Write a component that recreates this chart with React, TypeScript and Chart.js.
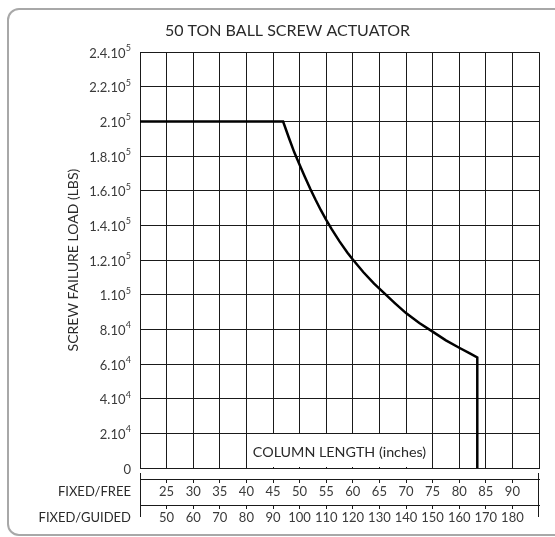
import { useEffect, useRef } from 'react';
import { Chart, registerables } from 'chart.js';

Chart.register(...registerables);

const FONT = 'Lato, "Open Sans", sans-serif';
const GRID = '#1a1a1a';
const TEXT = '#2a2a2a';
const TICK_TEXT = '#3a3a3a';

const TITLE = '50 TON BALL SCREW ACTUATOR';
const Y_TITLE = 'SCREW FAILURE LOAD (LBS)';
const X_TITLE = 'COLUMN LENGTH (inches)';
const ROW_FREE = 'FIXED/FREE';
const ROW_GUIDED = 'FIXED/GUIDED';

// Curve (column length in inches on the FIXED/FREE scale, load in lbs)
const columnLengthIn = [20, 46.9, 48, 49, 50, 51, 52, 53, 54, 55, 56, 57.5, 59, 60, 62, 64, 66, 68, 70, 72.5, 75, 77.5, 80, 82, 83.4, 83.4];
const failureLoadLbs = [200000, 200000, 190500, 182200, 175000, 168000, 161200, 154800, 148800, 143200, 138000, 130800, 124300, 120300, 113000, 106400, 100600, 94900, 89400, 83700, 78700, 73700, 69400, 66200, 63800, 0];

const gridLengthValues = [20, 25, 30, 35, 40, 45, 50, 55, 60, 65, 70, 75, 80, 85, 90, 95];
const freeTickValues = [25, 30, 35, 40, 45, 50, 55, 60, 65, 70, 75, 80, 85, 90];
const guidedTickValues = [50, 60, 70, 80, 90, 100, 110, 120, 130, 140, 150, 160, 170, 180];
const loadTickValues = [0, 20000, 40000, 60000, 80000, 100000, 120000, 140000, 160000, 180000, 200000, 220000, 240000];
// tick label = mantissa "." 10 ^ exponent, e.g. "2.4.10⁵"
const loadTickBase = ['0', '2.10', '4.10', '6.10', '8.10', '1.10', '1.2.10', '1.4.10', '1.6.10', '1.8.10', '2.10', '2.2.10', '2.4.10'];
const loadTickExp = ['', '4', '4', '4', '4', '5', '5', '5', '5', '5', '5', '5', '5'];

const TICK_FONT_SIZE = 13;
const TICK_PAD = 1;
const TICK_LEN = 4;

const decorPlugin = {
  id: 'decor',
  beforeDatasetsDraw(chart: any) {
    const { ctx, scales } = chart;
    const x = scales.x;
    const y = scales.y;
    const l = Math.round(x.getPixelForValue(40));
    const r = Math.round(x.getPixelForValue(75));
    const t = Math.round(y.getPixelForValue(20000));
    const b = Math.round(y.getPixelForValue(0));
    ctx.save();
    ctx.fillStyle = '#ffffff';
    ctx.fillRect(l + 1, t + 1, r - l - 2, b - t - 2);
    ctx.fillStyle = TEXT;
    ctx.font = `14.3px ${FONT}`;
    ctx.textAlign = 'center';
    ctx.textBaseline = 'middle';
    ctx.fillText(X_TITLE, (l + r) / 2, (t + b) / 2 + 1.5);
    ctx.restore();
  },
  afterDraw(chart: any) {
    const { ctx, chartArea, scales } = chart;
    const free = scales.xFree;
    const guided = scales.xGuided;
    const y = scales.y;
    ctx.save();
    // y tick labels with raised exponents
    ctx.fillStyle = TICK_TEXT;
    ctx.textAlign = 'right';
    ctx.textBaseline = 'alphabetic';
    const right = y.right - 9;
    loadTickValues.forEach((v, i) => {
      const py = y.getPixelForValue(v);
      const base = py + 5.6;
      let xr = right;
      if (loadTickExp[i]) {
        ctx.font = `9px ${FONT}`;
        ctx.fillText(loadTickExp[i], xr, base - 6.8);
        xr -= ctx.measureText(loadTickExp[i]).width + 0.3;
      }
      ctx.font = `${TICK_FONT_SIZE}px ${FONT}`;
      ctx.fillText(loadTickBase[i], xr, base);
    });
    // bottom row frame bars
    ctx.strokeStyle = GRID;
    ctx.lineWidth = 1;
    const top = free.top - 6;
    const bottom = guided.top + 12;
    [Math.round(chartArea.left) + 0.5, Math.round(chartArea.right) - 0.5].forEach((px) => {
      ctx.beginPath();
      ctx.moveTo(px, top);
      ctx.lineTo(px, bottom);
      ctx.stroke();
    });
    // row names
    ctx.fillStyle = TEXT;
    ctx.font = `13px ${FONT}`;
    ctx.textAlign = 'right';
    ctx.textBaseline = 'middle';
    const lh = TICK_FONT_SIZE * 1.2;
    ctx.fillText(ROW_FREE, 131, free.top + TICK_LEN + TICK_PAD + lh / 2);
    ctx.fillText(ROW_GUIDED, 131, guided.top + TICK_LEN + TICK_PAD + lh / 2);
    ctx.restore();
  },
};

export default function App() {
  const canvasRef = useRef<HTMLCanvasElement | null>(null);

  useEffect(() => {
    const canvas = canvasRef.current;
    if (!canvas) return;
    const points = columnLengthIn.map((v, i) => ({ x: v, y: failureLoadLbs[i] }));
    const tickFont = { family: FONT, size: TICK_FONT_SIZE };
    const chart = new Chart(canvas, {
      type: 'line',
      data: {
        datasets: [
          {
            data: points,
            borderColor: '#000000',
            borderWidth: 2.5,
            pointRadius: 0,
            tension: 0,
            fill: false,
            xAxisID: 'x',
            yAxisID: 'y',
          },
        ],
      },
      options: {
        animation: false,
        responsive: false,
        maintainAspectRatio: false,
        events: [],
        layout: { padding: { left: 20, right: 0, top: 0, bottom: 0 } },
        plugins: {
          legend: { display: false },
          tooltip: { enabled: false },
          title: {
            display: true,
            text: TITLE,
            color: TEXT,
            font: { family: FONT, size: 16, weight: 'normal' },
            padding: { top: 21, bottom: 12 },
          },
        },
        scales: {
          x: {
            type: 'linear',
            position: 'bottom',
            weight: 0,
            min: 20,
            max: 95,
            afterBuildTicks: (s: any) => {
              s.ticks = gridLengthValues.map((v) => ({ value: v }));
            },
            ticks: { display: false, autoSkip: false },
            grid: { color: GRID, lineWidth: 1, drawTicks: false },
            border: { display: true, color: GRID },
            afterFit: (s: any) => {
              s.height = 11;
            },
          },
          xFree: {
            type: 'linear',
            position: 'bottom',
            weight: 1,
            min: 20,
            max: 95,
            afterBuildTicks: (s: any) => {
              s.ticks = freeTickValues.map((v) => ({ value: v }));
            },
            ticks: { color: TICK_TEXT, font: tickFont, padding: TICK_PAD, autoSkip: false, maxRotation: 0 },
            grid: { drawOnChartArea: false, drawTicks: true, tickLength: TICK_LEN, color: GRID },
            border: { display: true, color: GRID },
            afterFit: (s: any) => {
              s.height = 26;
            },
          },
          xGuided: {
            type: 'linear',
            position: 'bottom',
            weight: 2,
            min: 40,
            max: 190,
            afterBuildTicks: (s: any) => {
              s.ticks = guidedTickValues.map((v) => ({ value: v }));
            },
            ticks: { color: TICK_TEXT, font: tickFont, padding: TICK_PAD, autoSkip: false, maxRotation: 0 },
            grid: { drawOnChartArea: false, drawTicks: true, tickLength: TICK_LEN, color: GRID },
            border: { display: true, color: GRID },
            afterFit: (s: any) => {
              s.height = 32;
            },
          },
          y: {
            type: 'linear',
            position: 'left',
            min: 0,
            max: 240000,
            afterBuildTicks: (s: any) => {
              s.ticks = loadTickValues.map((v) => ({ value: v }));
            },
            ticks: { display: false, autoSkip: false },
            grid: { color: GRID, lineWidth: 1, drawTicks: false },
            border: { display: true, color: GRID },
            title: {
              display: true,
              text: Y_TITLE,
              color: TEXT,
              font: { family: FONT, size: 14 },
              padding: { top: 44.6, bottom: 0 },
            },
            afterFit: (s: any) => {
              s.width = 120;
            },
          },
          yPad: {
            type: 'linear',
            position: 'right',
            min: 0,
            max: 1,
            ticks: { display: false },
            grid: { display: false },
            border: { display: false },
            afterFit: (s: any) => {
              s.width = 16;
            },
          },
        },
      },
      plugins: [decorPlugin],
    } as any);
    return () => chart.destroy();
  }, []);

  return (
    <div style={{ position: 'fixed', left: 0, top: 0, width: 555, height: 537, overflow: 'hidden', background: '#ffffff' }}>
      <div
        style={{
          position: 'absolute',
          left: 7,
          top: 8,
          width: 620,
          height: 528,
          border: '2px solid #a8a8a8',
          borderRadius: 12,
          boxSizing: 'border-box',
        }}
      />
      <canvas
        ref={canvasRef}
        width={555}
        height={537}
        style={{ position: 'absolute', left: 0, top: 0, width: 555, height: 537 }}
      />
    </div>
  );
}
